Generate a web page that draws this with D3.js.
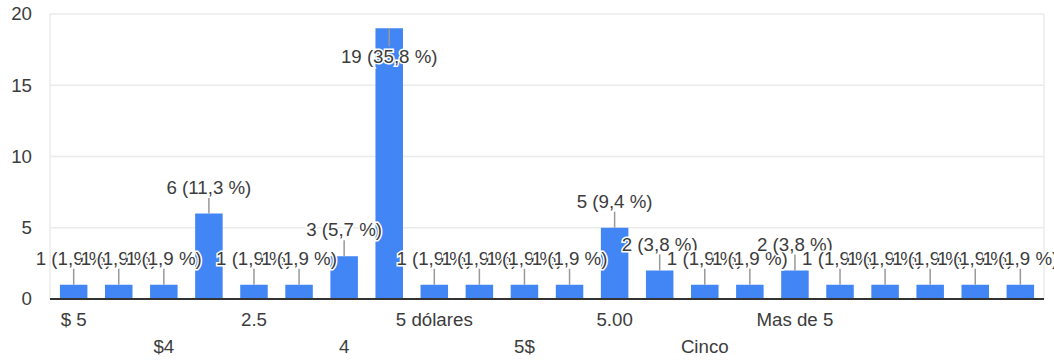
<!DOCTYPE html>
<html>
<head>
<meta charset="utf-8">
<script src="https://cdn.jsdelivr.net/npm/d3@7"></script>
<style>
  body { margin: 0; background: #fff; }
  svg text { font-family: Arial, "Liberation Sans", sans-serif; }
</style>
</head>
<body>
<div id="chart"></div>
<script>
// answers (22 bars), only every other one gets a visible label
const tickLabels = ["$ 5", "", "$4", "", "2.5", "", "4", "", "5 dólares", "", "5$", "",
  "5.00", "", "Cinco", "", "Mas de 5", "", "", "", "", ""];
const counts = [1, 1, 1, 6, 1, 1, 3, 19, 1, 1, 1, 1, 5, 2, 1, 1, 2, 1, 1, 1, 1, 1];
const yTicks = [0, 5, 10, 15, 20];

const total = d3.sum(counts);
const data = counts.map((v, i) => ({i, v, label: tickLabels[i]}));

const width = 1054, height = 361;
const margin = {top: 14, right: 10, bottom: 62, left: 50};
const innerW = width - margin.left - margin.right;
const innerH = height - margin.top - margin.bottom;
const fontSize = 18.7;

const svg = d3.select('#chart').append('svg')
  .attr('width', width)
  .attr('height', height);

const g = svg.append('g')
  .attr('transform', `translate(${margin.left},${margin.top})`);

const x = d3.scaleBand()
  .domain(data.map(d => d.i))
  .range([0, innerW])
  .paddingInner(0.39)
  .paddingOuter(0.22);

const y = d3.scaleLinear()
  .domain([0, 20])
  .range([innerH, 0]);

// gridlines
g.append('g')
  .selectAll('line')
  .data(yTicks)
  .join('line')
  .attr('x1', 0)
  .attr('x2', innerW)
  .attr('y1', d => y(d))
  .attr('y2', d => y(d))
  .attr('stroke', '#ebebeb')
  .attr('stroke-width', 1.5);

// side borders of chart area
g.append('line')
  .attr('x1', 0).attr('x2', 0)
  .attr('y1', 0).attr('y2', innerH)
  .attr('stroke', '#ebebeb').attr('stroke-width', 1.5);
g.append('line')
  .attr('x1', innerW).attr('x2', innerW)
  .attr('y1', 0).attr('y2', innerH)
  .attr('stroke', '#ebebeb').attr('stroke-width', 1.5);

// y axis labels
const yAxis = d3.axisLeft(y)
  .tickValues(yTicks)
  .tickSize(0)
  .tickPadding(18)
  .tickFormat(d3.format('d'));

g.append('g')
  .call(yAxis)
  .call(a => a.select('.domain').remove())
  .selectAll('text')
  .attr('font-size', fontSize)
  .attr('fill', '#3c3c3c');

// bars
g.append('g')
  .selectAll('rect')
  .data(data)
  .join('rect')
  .attr('x', d => x(d.i))
  .attr('y', d => y(d.v))
  .attr('width', x.bandwidth())
  .attr('height', d => innerH - y(d.v))
  .attr('fill', '#4285f4');

// baseline
g.append('line')
  .attr('x1', 0).attr('x2', innerW)
  .attr('y1', y(0)).attr('y2', y(0))
  .attr('stroke', '#333')
  .attr('stroke-width', 2);

// x labels, staggered on two rows
g.append('g')
  .selectAll('text')
  .data(data.filter(d => d.label !== ''))
  .join('text')
  .attr('x', d => x(d.i) + x.bandwidth() / 2)
  .attr('y', d => innerH + ((d.i / 2) % 2 === 0 ? 27 : 54))
  .attr('text-anchor', 'middle')
  .attr('font-size', fontSize)
  .attr('fill', '#3c3c3c')
  .text(d => d.label);

// annotations: stem + "n (pct %)"
const fmtPct = v => (v / total * 100).toFixed(1).replace('.', ',');
const stem = 16;
const ann = g.append('g');
data.forEach(d => {
  const cx = x(d.i) + x.bandwidth() / 2;
  const top = y(d.v);
  const inside = top < 45;
  ann.append('line')
    .attr('x1', cx).attr('x2', cx)
    .attr('y1', top)
    .attr('y2', inside ? top + stem + 2 : top - stem)
    .attr('stroke', '#999')
    .attr('stroke-width', 1.5);
  ann.append('text')
    .attr('x', cx)
    .attr('y', inside ? top + stem + 19 : top - stem - 4)
    .attr('text-anchor', 'middle')
    .attr('font-size', fontSize)
    .attr('fill', '#3c3c3c')
    .attr('stroke', '#fff')
    .attr('stroke-width', 3)
    .attr('paint-order', 'stroke')
    .text(`${d.v} (${fmtPct(d.v)} %)`);
});
</script>
</body>
</html>
